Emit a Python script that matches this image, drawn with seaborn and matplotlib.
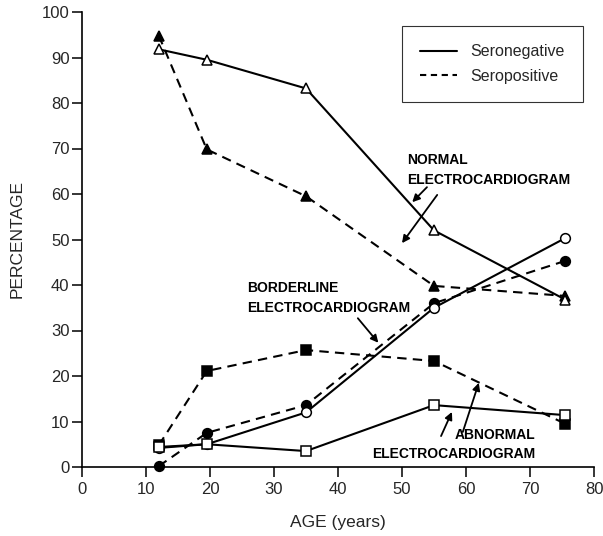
"""
ECG category by age, seronegative vs seropositive.
Re-drawn from a scanned figure: six series, open markers for
seronegative (solid lines), filled markers for seropositive (dashed).
"""

import matplotlib.pyplot as plt
import seaborn as sns
import pandas as pd
from matplotlib.lines import Line2D

# ── Data ─────────────────────────────────────────────────────────────────────
age = [12, 19.5, 35, 55, 75.5]

normal_neg = [91.8, 89.5, 83.2, 52.0, 36.8]
normal_pos = [94.8, 69.8, 59.5, 39.8, 37.6]
border_neg = [4.2, 5.0, 12.0, 35.0, 50.3]
border_pos = [0.2, 7.5, 13.6, 36.0, 45.3]
abnorm_neg = [4.4, 5.0, 3.5, 13.6, 11.4]
abnorm_pos = [4.8, 21.1, 25.7, 23.3, 9.5]

x_ticks = list(range(0, 81, 10))
y_ticks = list(range(0, 101, 10))

series = [
    ("Normal", "Seropositive", normal_pos),
    ("Borderline", "Seropositive", border_pos),
    ("Abnormal", "Seropositive", abnorm_pos),
    ("Normal", "Seronegative", normal_neg),
    ("Borderline", "Seronegative", border_neg),
    ("Abnormal", "Seronegative", abnorm_neg),
]

# ── Style ────────────────────────────────────────────────────────────────────
sns.set_style("ticks")
plt.rcParams["font.family"] = ["Liberation Sans", "DejaVu Sans"]

MARKERS = {"Normal": ("^", 6.5), "Borderline": ("o", 7), "Abnormal": ("s", 6.5)}

fig = plt.figure(figsize=(6.03, 5.36), dpi=100)
ax = fig.add_axes([82 / 603, 69 / 536, 512 / 603, 455 / 536])

for group, sero, vals in series:
    df = pd.DataFrame({"age": age, "pct": vals})
    mk, ms = MARKERS[group]
    pos = sero == "Seropositive"
    sns.lineplot(
        data=df, x="age", y="pct", ax=ax, color="black",
        linewidth=1.5, dashes=(4.5, 3) if pos else (None, None),
        marker=mk, markersize=ms, markeredgewidth=1.1,
        markerfacecolor="black" if pos else "white",
        markeredgecolor="black", clip_on=False, zorder=3 if pos else 4,
    )
    if not pos:
        ax.lines[-1].set_linestyle("-")

ax.set_xlim(0, 80)
ax.set_ylim(0, 100)
ax.set_xticks(x_ticks)
ax.set_yticks(y_ticks)
ax.tick_params(axis="both", direction="out", length=7, width=1.1,
               color="black", labelsize=12)
ax.tick_params(axis="x", pad=4)
ax.tick_params(axis="y", pad=2)
for s in ("left", "bottom"):
    ax.spines[s].set_linewidth(1.2)
    ax.spines[s].set_color("black")
sns.despine(ax=ax)

ax.set_xlabel("AGE (years)", fontsize=12.5, labelpad=13)
ax.set_ylabel("PERCENTAGE", fontsize=12.5, labelpad=12)

# legend
handles = [
    Line2D([], [], color="black", lw=1.5),
    Line2D([], [], color="black", lw=1.5, dashes=(3, 2.2)),
]
leg = ax.legend(handles, ["Seronegative", "Seropositive"],
                loc="upper right", bbox_to_anchor=(0.979, 0.969),
                fontsize=11.5, frameon=True, fancybox=False,
                handlelength=2.3, handletextpad=0.85, labelspacing=0.6,
                borderpad=1.15, borderaxespad=0)
leg.get_frame().set_edgecolor("black")
leg.get_frame().set_linewidth(0.8)

# annotations
txt = dict(fontsize=10, fontweight="bold", color="black")
arw = dict(arrowstyle="-|>", color="black", lw=1.3, mutation_scale=11,
           shrinkA=0, shrinkB=0)

ax.text(50.8, 69.0, "NORMAL\nELECTROCARDIOGRAM", ha="left", va="top",
        linespacing=1.5, **txt)
ax.annotate("", xy=(51.6, 58.2), xytext=(53.9, 61.5), arrowprops=arw)
ax.annotate("", xy=(50.0, 49.2), xytext=(55.5, 59.8), arrowprops=arw)

ax.text(25.8, 40.8, "BORDERLINE\nELECTROCARDIOGRAM", ha="left", va="top",
        linespacing=1.5, **txt)
ax.annotate("", xy=(46.3, 27.3), xytext=(43.1, 32.7), arrowprops=arw)

ax.text(70.8, 8.6, "ABNORMAL\nELECTROCARDIOGRAM", ha="right", va="top",
        multialignment="right", linespacing=1.5, **txt)
ax.annotate("", xy=(57.8, 12.1), xytext=(56.1, 6.8), arrowprops=arw)
ax.annotate("", xy=(62.0, 18.5), xytext=(59.5, 7.7), arrowprops=arw)

fig.savefig("out.png", dpi=100)
plt.close(fig)
